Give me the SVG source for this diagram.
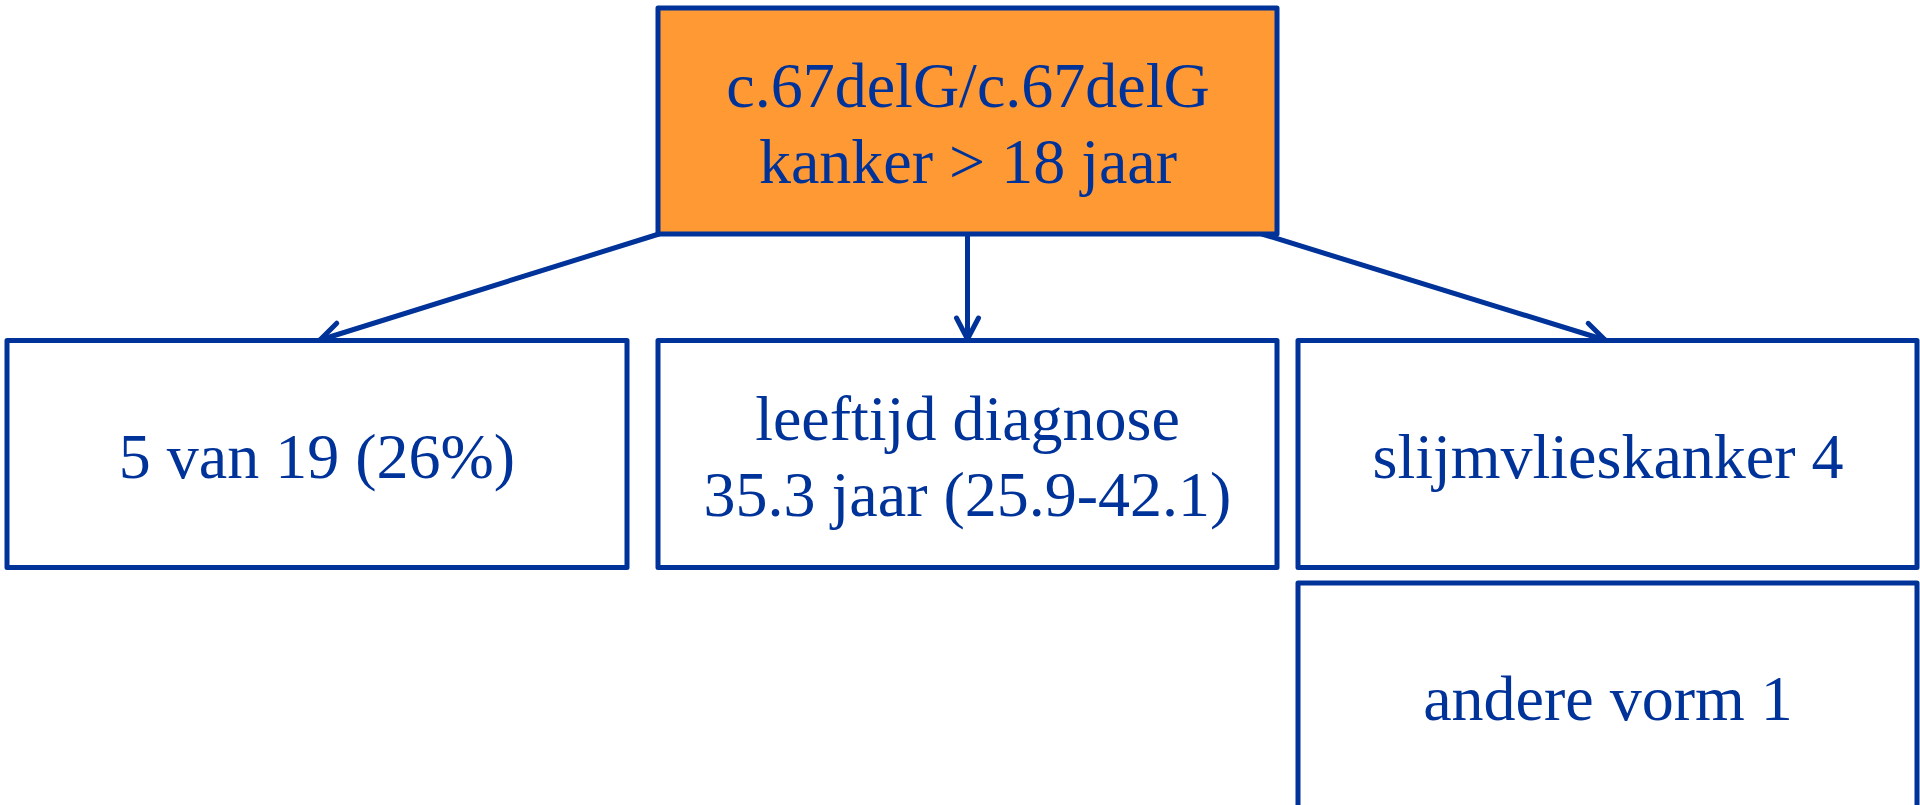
<svg xmlns="http://www.w3.org/2000/svg" width="1920" height="805" viewBox="0 0 1920 805">
<style>
.box{fill:#FFFFFF;stroke:#003399;stroke-width:5;stroke-linejoin:round}
.root{fill:#FF9933;stroke:#003399;stroke-width:5;stroke-linejoin:round}
.t{font-family:"Liberation Serif","Times New Roman",serif;font-size:64px;fill:#003399;text-anchor:middle}
.c{fill:none;stroke:#003399;stroke-width:5;stroke-linecap:round}
</style>
<defs>
<marker id="arr" markerUnits="userSpaceOnUse" viewBox="-25 -14 28 28" refX="0" refY="0" markerWidth="28" markerHeight="28" orient="auto" overflow="visible">
<path d="M-21,-11 L0,0 L-21,11" fill="none" stroke="#003399" stroke-width="5" stroke-linecap="round" stroke-linejoin="miter"/>
</marker>
</defs>
<rect width="1920" height="805" fill="#FFFFFF"/>
<g id="connectors">
<line class="c" x1="659" y1="234" x2="320" y2="340" marker-end="url(#arr)"/>
<line class="c" x1="967.5" y1="234" x2="967.5" y2="339" marker-end="url(#arr)"/>
<line class="c" x1="1262" y1="234" x2="1605" y2="340" marker-end="url(#arr)"/>
</g>
<g id="root">
<rect class="root" x="658" y="8" width="619" height="226"/>
<text class="t" x="968" y="107">c.67delG/c.67delG</text>
<text class="t" x="968" y="183">kanker &gt; 18 jaar</text>
</g>
<g id="n1">
<rect class="box" x="7" y="340.5" width="620" height="227"/>
<text class="t" x="317" y="478">5 van 19 (26%)</text>
</g>
<g id="n2">
<rect class="box" x="658" y="340.5" width="619" height="227"/>
<text class="t" x="967.5" y="440">leeftijd diagnose</text>
<text class="t" x="967.5" y="516">35.3 jaar (25.9-42.1)</text>
</g>
<g id="n3">
<rect class="box" x="1298" y="340.5" width="619" height="227"/>
<text class="t" x="1608" y="478">slijmvlieskanker 4</text>
</g>
<g id="n4">
<rect class="box" x="1298" y="583" width="619" height="240"/>
<text class="t" x="1608" y="720">andere vorm 1</text>
</g>
</svg>
